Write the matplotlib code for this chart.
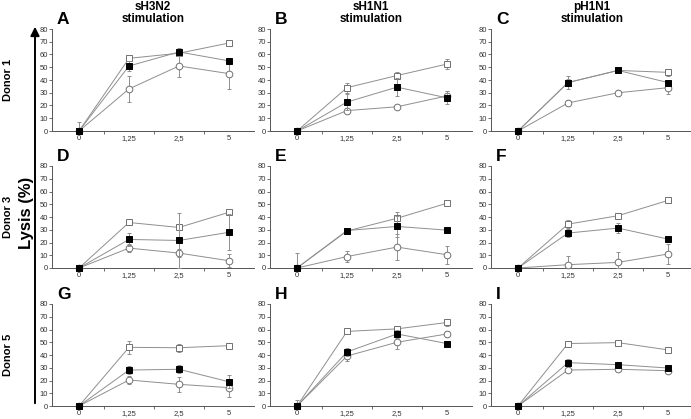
#!/usr/bin/env python3
"""Lysis (%) vs effector:target dose, 3 donors x 3 stimulations, 3 series each."""

import matplotlib
matplotlib.use("Agg")
import matplotlib.pyplot as plt

plt.rcParams["font.family"] = ["Liberation Sans", "DejaVu Sans"]

DOSES = ["0", "1,25", "2,5", "5"]
STIMULATIONS = ["sH3N2\nstimulation", "sH1N1\nstimulation", "pH1N1\nstimulation"]
DONORS = ["Donor 1", "Donor 3", "Donor 5"]
PANEL_LETTERS = ["A", "B", "C", "D", "E", "F", "G", "H", "I"]

# one row per panel (A..I), one value per dose
OPEN_SQ_MEAN = [
    [0, 57, 61, 69], [0, 34, 43.5, 52.5], [0, 38, 47.5, 46],
    [0, 35.7, 31.8, 43.7], [0, 29, 39, 50.8], [0, 34.4, 41, 53],
    [0, 46, 45.7, 47.3], [0, 58.5, 60.5, 65.5], [0, 49, 49.7, 44],
]
OPEN_SQ_ERR = [
    [0, 2, 2, 1.5], [0, 4, 3, 4], [0, 3, 2, 3],
    [0, 2, 2, 2], [0, 2, 5, 1], [0, 3, 2, 1.5],
    [0, 5, 3, 2], [0, 1.5, 2, 3], [0, 2, 2, 2],
]
FILLED_SQ_MEAN = [
    [0, 51, 62, 55], [0, 22.7, 34.4, 26], [0, 38, 47.5, 38],
    [0, 22.4, 21.6, 28], [0, 29.4, 32.6, 29.7], [0, 27.4, 31.3, 22.7],
    [0, 28.2, 28.8, 19], [0, 42.4, 56.5, 49], [0, 34, 32.4, 29.8],
]
FILLED_SQ_ERR = [
    [7, 4, 3, 2], [0, 6, 7, 5], [0, 5, 1, 2],
    [0, 5, 21.6, 14], [0, 2, 8, 1.5], [0, 3, 4, 1.5],
    [0, 3, 3, 5], [5, 3, 3, 2], [0, 3, 2, 2],
]
CIRCLE_MEAN = [
    [0, 33, 51, 45], [0, 16, 19, 27.5], [0, 22, 30, 34],
    [0, 15.6, 11.7, 5.7], [0, 9, 16.4, 10.4], [0, 2.6, 4.4, 11],
    [0, 20.4, 17, 14.4], [0, 39.2, 50, 56.5], [0, 28.2, 28.8, 27.7],
]
CIRCLE_ERR = [
    [0, 10, 9, 12], [0, 2, 1.5, 4], [0, 2, 2, 5],
    [0, 3, 3, 5], [12, 4, 10, 7], [0, 7, 8, 8],
    [0, 3, 6, 7], [0, 4, 5, 2], [0, 1.5, 1.5, 1.5],
]

W, H = 691, 419
fig = plt.figure(figsize=(W / 100, H / 100), dpi=100)

col_left = [52, 270, 491]
ax_w = 202
row_top = [29, 166, 304]
ax_h = 102

LINE = "#8f8f8f"
EDGE = "#707070"
x = list(range(len(DOSES)))

for r in range(3):
    for c in range(3):
        i = r * 3 + c
        ax = fig.add_axes([col_left[c] / W, (H - row_top[r] - ax_h) / H,
                           ax_w / W, ax_h / H])
        series = [
            (CIRCLE_MEAN, CIRCLE_ERR, "o", "white", EDGE),
            (OPEN_SQ_MEAN, OPEN_SQ_ERR, "s", "white", EDGE),
            (FILLED_SQ_MEAN, FILLED_SQ_ERR, "s", "black", "black"),
        ]
        for k, (mean, err, mk, fc, ec) in enumerate(series):
            # error bars stop at the x axis (no negative lysis drawn)
            lower = [min(e, m) for m, e in zip(mean[i], err[i])]
            ax.errorbar(x, mean[i], yerr=[lower, err[i]], color=LINE, lw=0.7,
                        ecolor=LINE, elinewidth=0.7, capsize=1.5, capthick=0.7,
                        marker=mk, markersize=4.8, markerfacecolor=fc,
                        markeredgecolor=ec, markeredgewidth=0.7,
                        zorder=3 + k, clip_on=False)

        ax.set_xlim(-0.54, 3.5)
        ax.set_ylim(0, 80)
        ax.set_yticks(range(0, 81, 10))
        ax.set_xticks(x)
        ax.set_xticklabels(DOSES)
        ax.set_xticks([0.5, 1.5, 2.5], minor=True)
        ax.tick_params(axis="x", which="major", length=0, pad=3,
                       labelsize=5.5, labelcolor="#333333")
        ax.tick_params(axis="x", which="minor", length=2, width=0.6,
                       color="#555555", direction="out")
        ax.tick_params(axis="y", length=2, width=0.6, color="#555555",
                       pad=1, labelsize=5.5, labelcolor="#333333")
        for s in ("top", "right"):
            ax.spines[s].set_visible(False)
        for s in ("left", "bottom"):
            ax.spines[s].set_color("#555555")
            ax.spines[s].set_linewidth(0.7)

        ax.text(0.025, 1.015, PANEL_LETTERS[i], transform=ax.transAxes,
                fontsize=12.5, fontweight="bold", ha="left", va="bottom")

        if r == 0:
            cx = (col_left[c] + ax_w / 2) / W
            fig.text(cx, 1 - 13 / H, STIMULATIONS[c], ha="center", va="center",
                     fontsize=8.5, fontweight="bold", linespacing=1.0)

    cy = 1 - (row_top[r] + ax_h / 2) / H
    fig.text(8 / W, cy, DONORS[r], rotation=90, ha="center", va="center",
             fontsize=8, fontweight="bold")

# shared y label with arrow
fig.text(26 / W, 1 - 213 / H, "Lysis (%)", rotation=90, ha="center",
         va="center", fontsize=12, fontweight="bold")
fig.add_artist(matplotlib.patches.FancyArrowPatch(
    (35 / W, 1 - 406 / H), (35 / W, 1 - 24 / H),
    transform=fig.transFigure, arrowstyle="-|>", mutation_scale=13,
    lw=1.4, color="black"))

fig.savefig("out.png", dpi=100)
